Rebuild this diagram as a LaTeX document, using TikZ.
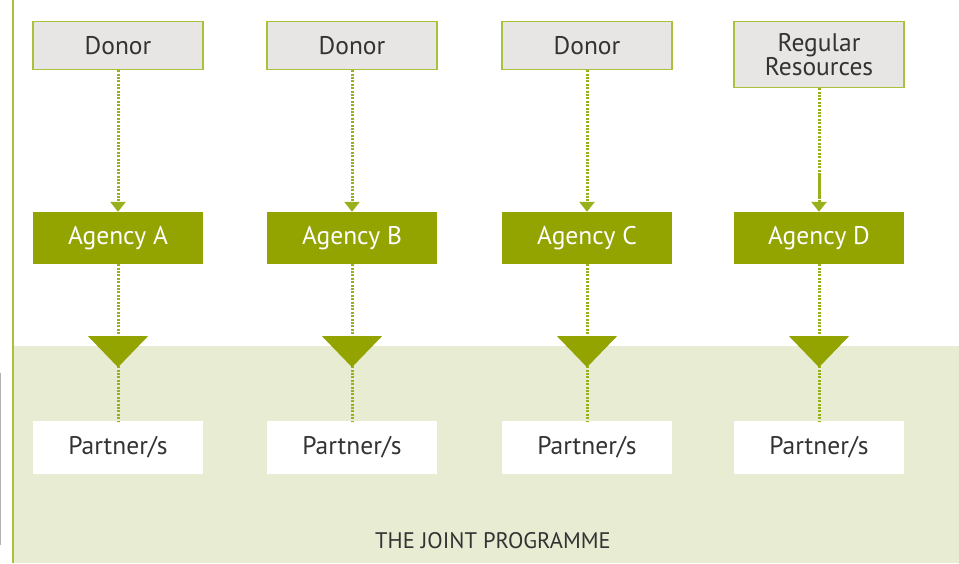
\documentclass[tikz,border=0pt]{standalone}
\usepackage{fontspec}
\setmainfont{PT Sans}
\usetikzlibrary{arrows.meta,calc}
\definecolor{olive}{HTML}{93A300}
\definecolor{leaf}{HTML}{98B01C}
\definecolor{rim}{HTML}{A9C13B}
\definecolor{paper}{HTML}{E8E6E5}
\definecolor{field}{HTML}{E7ECD2}
\definecolor{ink}{HTML}{333333}
\tikzset{
  box/.style={minimum width=170pt, inner sep=0pt, align=center, font=\fontsize{25.5}{24}\selectfont},
  donorbox/.style={box, draw=rim, line width=1.5pt, fill=paper, text=ink, minimum height=48pt},
  agencybox/.style={box, fill=olive, text=white, minimum height=52pt},
  partnerbox/.style={box, fill=white, text=ink, minimum height=53pt},
  flow/.style={draw=leaf, line width=3pt, dash pattern=on 2pt off 1.4pt},
  tip/.style={-{Triangle[width=15pt,length=10pt,fill=leaf,color=leaf]}}
}
\begin{document}
\begin{tikzpicture}[x=1pt,y=-1pt]
  \useasboundingbox (0,0) rectangle (959,563);
  % joint programme area and frame line
  \fill[field] (14,346) rectangle (959,563);
  \draw[rim, line width=1.6pt] (13,0) -- (13,563);
  \draw[gray!60, line width=0.8pt] (0.6,373) -- (0.6,545);
  % funding sources
  \node[donorbox] (d1) at (118,45.5) {Donor};
  \node[donorbox] (d2) at (352,45.5) {Donor};
  \node[donorbox] (d3) at (587,45.5) {Donor};
  \node[donorbox, minimum height=66pt] (d4) at (819,54.5) {Regular\\Resources};
  % agencies
  \node[agencybox] (a1) at (118,238) {Agency A};
  \node[agencybox] (a2) at (352,238) {Agency B};
  \node[agencybox] (a3) at (587,238) {Agency C};
  \node[agencybox] (a4) at (819,238) {Agency D};
  % partners
  \node[partnerbox] (p1) at (118,447.5) {Partner/s};
  \node[partnerbox] (p2) at (352,447.5) {Partner/s};
  \node[partnerbox] (p3) at (587,447.5) {Partner/s};
  \node[partnerbox] (p4) at (819,447.5) {Partner/s};
  % flows
  \foreach \i in {1,2,3,4}{
    \draw[flow, tip] (d\i.south) -- (a\i.north);
    \draw[flow] (a\i.south) -- (p\i.north);
    \fill[olive] ($(a\i.south)+(-30,72)$) -- ($(a\i.south)+(30,72)$) -- ($(a\i.south)+(0,103)$) -- cycle;
  }
  \draw[leaf, line width=3pt] ($(d4.south)+(0,86)$) -- ($(d4.south)+(0,110)$);
  \node[text=ink, font=\fontsize{22.5}{22.5}\selectfont] (jp) at (493,541) {THE JOINT PROGRAMME};
\end{tikzpicture}
\end{document}
